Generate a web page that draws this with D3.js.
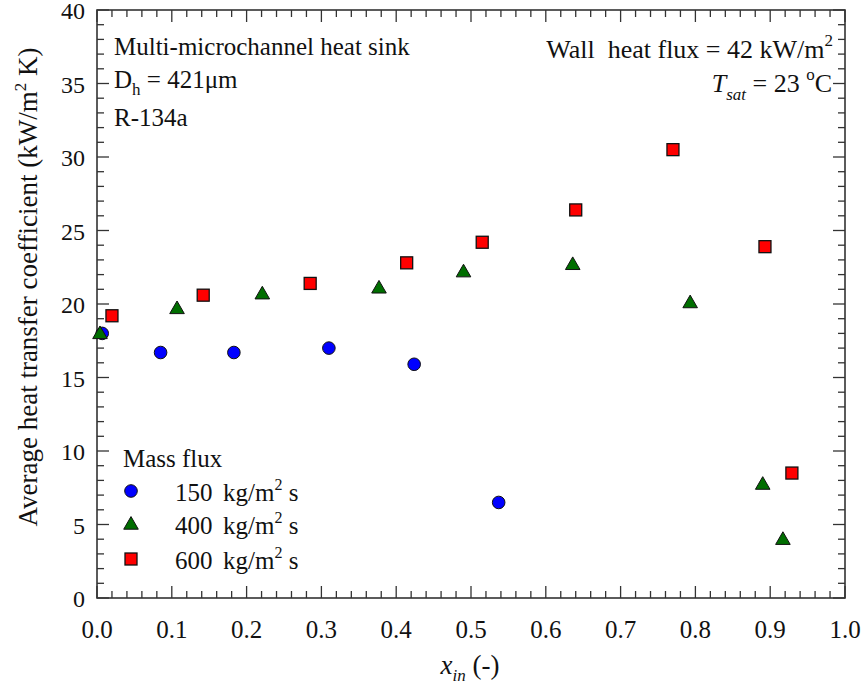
<!DOCTYPE html>
<html>
<head>
<meta charset="utf-8">
<script src="https://cdn.jsdelivr.net/npm/d3@7"></script>
<style>
  body { margin: 0; background: #fff; }
  text { font-family: "Liberation Serif", "Times New Roman", serif; fill: #111; }
</style>
</head>
<body>
<svg id="canvas" width="867" height="693"></svg>
<script>
// data
const x150 = [0.007, 0.085, 0.183, 0.310, 0.424, 0.537];
const h150 = [18.0, 16.7, 16.7, 17.0, 15.9, 6.5];

const x400 = [0.004, 0.107, 0.221, 0.377, 0.490, 0.636, 0.793, 0.890, 0.917];
const h400 = [18.0, 19.7, 20.7, 21.1, 22.2, 22.7, 20.1, 7.75, 4.0];

const x600 = [0.020, 0.142, 0.285, 0.414, 0.515, 0.640, 0.770, 0.893, 0.929];
const h600 = [19.2, 20.6, 21.4, 22.8, 24.2, 26.4, 30.5, 23.9, 8.5];

const xTicks = [0, 0.1, 0.2, 0.3, 0.4, 0.5, 0.6, 0.7, 0.8, 0.9, 1.0];
const yTicks = [0, 5, 10, 15, 20, 25, 30, 35, 40];

const series = [
  { name: "150", shape: "circle", color: "#0000ff", xs: x150, ys: h150 },
  { name: "400", shape: "triangle", color: "#006e00", xs: x400, ys: h400 },
  { name: "600", shape: "square", color: "#ff0000", xs: x600, ys: h600 }
];

const pLeft = 97, pRight = 845, pTop = 10, pBottom = 598;
const svg = d3.select('#canvas');

const x = d3.scaleLinear().domain([0, 1]).range([pLeft, pRight]);
const y = d3.scaleLinear().domain([0, 40]).range([pBottom, pTop]);

const axisColor = "#333";

// frame
svg.append("rect")
  .attr("x", pLeft).attr("y", pTop)
  .attr("width", pRight - pLeft).attr("height", pBottom - pTop)
  .attr("fill", "none").attr("stroke", axisColor).attr("stroke-width", 1.6);

// ticks pointing inward on all four sides
const xMinor = d3.range(0, 1.0001, 0.02);
const yMinor = d3.range(0, 40.001, 1);

function isMajor(v, step) {
  return Math.abs(v / step - Math.round(v / step)) < 1e-6;
}

xMinor.forEach(v => {
  let len = isMajor(v, 0.1) ? 12 : 7;
  svg.append("line").attr("x1", x(v)).attr("x2", x(v))
    .attr("y1", pBottom).attr("y2", pBottom - len)
    .attr("stroke", axisColor).attr("stroke-width", 1.3);
  svg.append("line").attr("x1", x(v)).attr("x2", x(v))
    .attr("y1", pTop).attr("y2", pTop + len)
    .attr("stroke", axisColor).attr("stroke-width", 1.3);
});
yMinor.forEach(v => {
  let len = isMajor(v, 5) ? 12 : 7;
  svg.append("line").attr("y1", y(v)).attr("y2", y(v))
    .attr("x1", pLeft).attr("x2", pLeft + len)
    .attr("stroke", axisColor).attr("stroke-width", 1.3);
  svg.append("line").attr("y1", y(v)).attr("y2", y(v))
    .attr("x1", pRight).attr("x2", pRight - len)
    .attr("stroke", axisColor).attr("stroke-width", 1.3);
});

// tick labels
svg.selectAll(".xl").data(xTicks).enter().append("text")
  .attr("x", d => x(d)).attr("y", pBottom + 40)
  .attr("text-anchor", "middle").attr("font-size", 25)
  .text(d => d.toFixed(1));
svg.selectAll(".yl").data(yTicks).enter().append("text")
  .attr("x", pLeft - 12).attr("y", d => y(d) + 9)
  .attr("text-anchor", "end").attr("font-size", 24)
  .text(d => d);

// axis titles
let xt = svg.append("text").attr("x", 470).attr("y", 674)
  .attr("text-anchor", "middle").attr("font-size", 27);
xt.append("tspan").attr("font-style", "italic").text("x");
xt.append("tspan").attr("font-style", "italic").attr("font-size", 17).attr("dy", 7).text("in");
xt.append("tspan").attr("dy", -7).text(" (-)");

let yt = svg.append("text").attr("transform", "translate(37,287) rotate(-90)")
  .attr("text-anchor", "middle").attr("font-size", 27);
yt.append("tspan").text("Average heat transfer coefficient (kW/m");
yt.append("tspan").attr("font-size", 17).attr("dy", -11).text("2");
yt.append("tspan").attr("dy", 11).text(" K)");

// markers
function drawMarker(g, shape, cx, cy, color) {
  if (shape === "circle") {
    g.append("circle").attr("cx", cx).attr("cy", cy).attr("r", 6.3)
      .attr("fill", color).attr("stroke", "#111").attr("stroke-width", 1);
  } else if (shape === "square") {
    g.append("rect").attr("x", cx - 6).attr("y", cy - 6)
      .attr("width", 12).attr("height", 12)
      .attr("fill", color).attr("stroke", "#111").attr("stroke-width", 1.3);
  } else {
    let s = d3.symbol().type(d3.symbolTriangle).size(92);
    g.append("path").attr("d", s())
      .attr("transform", "translate(" + cx + "," + (cy + 1) + ")")
      .attr("fill", color).attr("stroke", "#111").attr("stroke-width", 1);
  }
}

const marks = svg.append("g");
series.forEach(s => {
  s.xs.forEach((xv, i) => {
    drawMarker(marks, s.shape, x(xv), y(s.ys[i]), s.color);
  });
});

// legend
svg.append("text").attr("x", 123).attr("y", 467).attr("font-size", 25).text("Mass flux");
const legendY = [491, 524, 559];
series.forEach((s, i) => {
  let ly = legendY[i];
  drawMarker(svg, s.shape, 131, ly, s.color);
  svg.append("text").attr("x", 175).attr("y", ly + 10).attr("font-size", 25).text(s.name);
  let t = svg.append("text").attr("x", 223).attr("y", ly + 10).attr("font-size", 25);
  t.append("tspan").text("kg/m");
  t.append("tspan").attr("font-size", 16).attr("dy", -11).text("2");
  t.append("tspan").attr("dy", 11).text(" s");
});

// annotations
svg.append("text").attr("x", 114).attr("y", 55).attr("font-size", 25)
  .text("Multi-microchannel heat sink");
let dh = svg.append("text").attr("x", 114).attr("y", 88).attr("font-size", 25);
dh.append("tspan").text("D");
dh.append("tspan").attr("font-size", 17).attr("dy", 7).text("h");
dh.append("tspan").attr("dy", -7).text(" = 421\u03bcm");
svg.append("text").attr("x", 114).attr("y", 126).attr("font-size", 25).text("R-134a");

let wf = svg.append("text").attr("x", 833).attr("y", 58).attr("font-size", 26)
  .attr("text-anchor", "end").style("white-space", "pre");
wf.append("tspan").text("Wall  heat flux = 42 kW/m");
wf.append("tspan").attr("font-size", 17).attr("dy", -12).text("2");

let ts = svg.append("text").attr("x", 832).attr("y", 92).attr("font-size", 26)
  .attr("text-anchor", "end");
ts.append("tspan").attr("font-style", "italic").text("T");
ts.append("tspan").attr("font-style", "italic").attr("font-size", 17).attr("dy", 8).text("sat");
ts.append("tspan").attr("dy", -8).text(" = 23 ");
ts.append("tspan").attr("font-size", 17).attr("dy", -12).text("o");
ts.append("tspan").attr("dy", 12).text("C");
</script>
</body>
</html>
